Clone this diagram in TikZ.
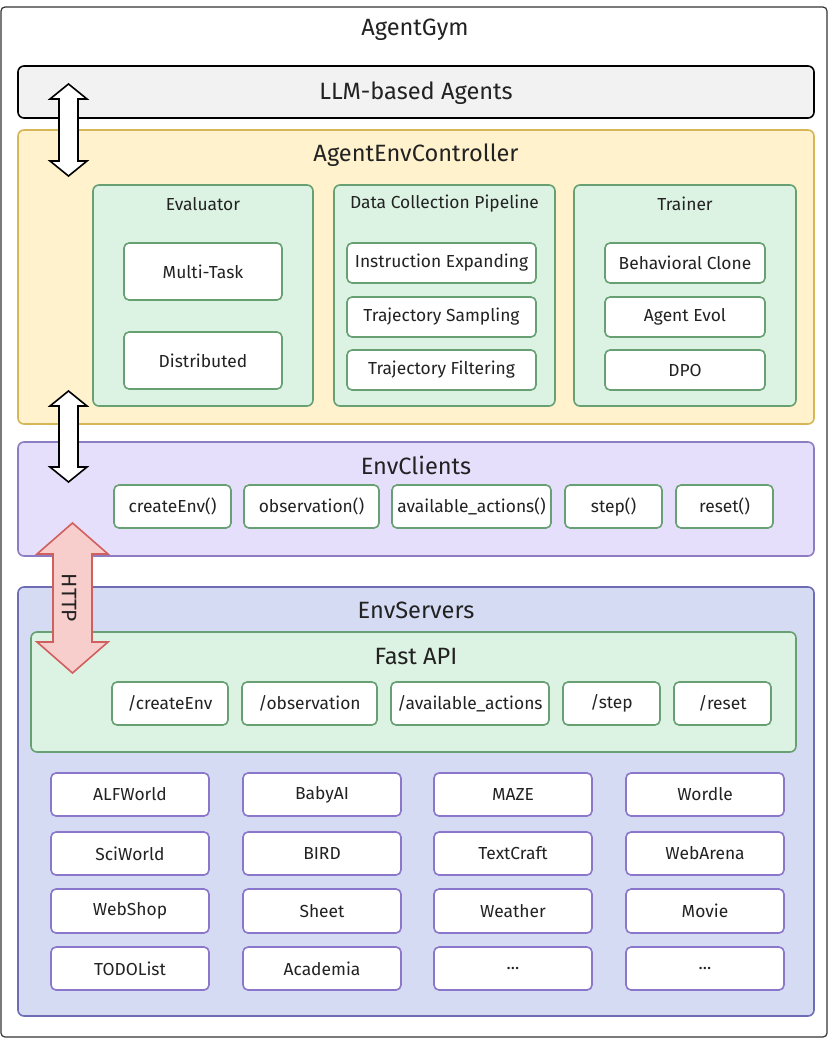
\documentclass[tikz,border=0pt]{standalone}
\usepackage{fontspec}
\setmainfont{Fira Sans}
\usetikzlibrary{calc}

\definecolor{txt}{HTML}{222222}
\definecolor{llmfill}{HTML}{F2F2F2}
\definecolor{ctrlfill}{HTML}{FFF2CC}
\definecolor{ctrldraw}{HTML}{D6B656}
\definecolor{modfill}{HTML}{DCF3E3}
\definecolor{moddraw}{HTML}{67A072}
\definecolor{clifill}{HTML}{E6DFFC}
\definecolor{clidraw}{HTML}{8E7CC3}
\definecolor{srvfill}{HTML}{D5DBF3}
\definecolor{srvdraw}{HTML}{6C6DB5}
\definecolor{envdraw}{HTML}{8A77CC}
\definecolor{httpfill}{HTML}{F8CECC}
\definecolor{httpdraw}{HTML}{D0605E}

\tikzset{
  layer/.style={rounded corners=3pt,line width=0.8pt},
  cell/.style={fill=white,draw=moddraw,rounded corners=2.5pt,line width=0.8pt},
  envcell/.style={fill=white,draw=envdraw,rounded corners=2.5pt,line width=0.8pt},
  title/.style={text=txt,font=\fontsize{11.8}{14}\selectfont,inner sep=0pt},
  lbl/.style={text=txt,font=\fontsize{8.7}{10}\selectfont,inner sep=0pt},
  bigarrow/.style={fill=white,draw=black,line width=0.8pt,line join=miter},
}

% double block arrow from tip #2 to tip #3, shaft half width #4, head half width #5, head length #6
\newcommand{\blockarrow}[6]{%
  \draw[#1] (#2) -- ($(#2)+(#5,#6)$) -- ($(#2)+(#4,#6)$) -- ($(#3)+(#4,-#6)$)
    -- ($(#3)+(#5,-#6)$) -- (#3) -- ($(#3)+(-#5,-#6)$) -- ($(#3)+(-#4,-#6)$)
    -- ($(#2)+(-#4,#6)$) -- ($(#2)+(-#5,#6)$) -- cycle;}

\begin{document}
\begin{tikzpicture}[x=0.5pt,y=-0.5pt]
\useasboundingbox (0,0) rectangle (828,1039);
\draw[fill=white,draw=black!80,rounded corners=2pt,line width=0.6pt] (1,7) rectangle (827,1037);
\node[title] (gym) at (415,30) {AgentGym};

% agents
\draw[layer,fill=llmfill,draw=black] (18,66) rectangle (814,118);
\node[title] (llm) at (416,93) {LLM-based Agents};

% controller
\draw[layer,fill=ctrlfill,draw=ctrldraw] (18,130) rectangle (814,424);
\node[title] (ctrl) at (416,155) {AgentEnvController};

\draw[layer,fill=modfill,draw=moddraw] (93,185) rectangle (313,406);
\node[lbl] (eval) at (203,204) {Evaluator};
\draw[cell] (124,243) rectangle (282,300);
\node[lbl] (multi) at (203,271.5) {Multi-Task};
\draw[cell] (124,332) rectangle (282,389);
\node[lbl] (dist) at (203,360.5) {Distributed};

\draw[layer,fill=modfill,draw=moddraw] (334,185) rectangle (555,406);
\node[lbl] (pipe) at (444.5,204) {Data Collection Pipeline};
\draw[cell] (347,243) rectangle (536,283);
\node[lbl] (instr) at (441.5,263) {Instruction Expanding};
\draw[cell] (347,297) rectangle (536,337);
\node[lbl] (tsample) at (441.5,317) {Trajectory Sampling};
\draw[cell] (347,350) rectangle (536,390);
\node[lbl] (tfilter) at (441.5,370) {Trajectory Filtering};

\draw[layer,fill=modfill,draw=moddraw] (574,185) rectangle (796,406);
\node[lbl] (trainer) at (685,204) {Trainer};
\draw[cell] (605,243) rectangle (765,283);
\node[lbl] (bc) at (685,263) {Behavioral Clone};
\draw[cell] (605,297) rectangle (765,337);
\node[lbl] (evol) at (685,317) {Agent Evol};
\draw[cell] (605,350) rectangle (765,390);
\node[lbl] (dpo) at (685,370) {DPO};

% clients
\draw[layer,fill=clifill,draw=clidraw] (18,442) rectangle (814,556);
\node[title] (clients) at (416,465) {EnvClients};
\draw[cell] (114,485) rectangle (231,528);
\node[lbl] (ccreate) at (172.5,506.5) {createEnv()};
\draw[cell] (244,485) rectangle (379,528);
\node[lbl] (cobs) at (311.5,506.5) {observation()};
\draw[cell] (392,485) rectangle (551,528);
\node[lbl] (cact) at (471.5,506.5) {available\_actions()};
\draw[cell] (565,485) rectangle (662,528);
\node[lbl] (cstep) at (613.5,506.5) {step()};
\draw[cell] (676,485) rectangle (773,528);
\node[lbl] (creset) at (724.5,506.5) {reset()};

% servers
\draw[layer,fill=srvfill,draw=srvdraw] (18,587) rectangle (814,1016);
\node[title] (servers) at (416,610) {EnvServers};
\draw[layer,fill=modfill,draw=moddraw] (31,632) rectangle (796,752);
\node[title] (fastapi) at (416,657) {Fast API};
\draw[cell] (112,682) rectangle (228,725);
\node[lbl] (screate) at (170,703.5) {/createEnv};
\draw[cell] (242,682) rectangle (377,725);
\node[lbl] (sobs) at (309.5,703.5) {/observation};
\draw[cell] (391,682) rectangle (549,725);
\node[lbl] (sact) at (470,703.5) {/available\_actions};
\draw[cell] (563,682) rectangle (660,725);
\node[lbl] (sstep) at (611.5,703.5) {/step};
\draw[cell] (674,682) rectangle (771,725);
\node[lbl] (sreset) at (722.5,703.5) {/reset};

% environments
\draw[envcell] (51,773) rectangle (209,816);
\node[lbl] (alfworld) at (130,794.5) {ALFWorld};
\draw[envcell] (243,773) rectangle (401,816);
\node[lbl] (babyai) at (322,794.5) {BabyAI};
\draw[envcell] (434,773) rectangle (592,816);
\node[lbl] (maze) at (513,794.5) {MAZE};
\draw[envcell] (626,773) rectangle (784,816);
\node[lbl] (wordle) at (705,794.5) {Wordle};
\draw[envcell] (51,832) rectangle (209,875);
\node[lbl] (sciworld) at (130,853.5) {SciWorld};
\draw[envcell] (243,832) rectangle (401,875);
\node[lbl] (bird) at (322,853.5) {BIRD};
\draw[envcell] (434,832) rectangle (592,875);
\node[lbl] (textcraft) at (513,853.5) {TextCraft};
\draw[envcell] (626,832) rectangle (784,875);
\node[lbl] (webarena) at (705,853.5) {WebArena};
\draw[envcell] (51,889) rectangle (209,933);
\node[lbl] (webshop) at (130,911) {WebShop};
\draw[envcell] (243,889) rectangle (401,933);
\node[lbl] (sheet) at (322,911) {Sheet};
\draw[envcell] (434,889) rectangle (592,933);
\node[lbl] (weather) at (513,911) {Weather};
\draw[envcell] (626,889) rectangle (784,933);
\node[lbl] (movie) at (705,911) {Movie};
\draw[envcell] (51,947) rectangle (209,990);
\node[lbl] (todolist) at (130,968.5) {TODOList};
\draw[envcell] (243,947) rectangle (401,990);
\node[lbl] (academia) at (322,968.5) {Academia};
\draw[envcell] (434,947) rectangle (592,990);
\node[lbl] (moreA) at (513,968.5) {...};
\draw[envcell] (626,947) rectangle (784,990);
\node[lbl] (moreB) at (705,968.5) {...};

% arrows between layers
\coordinate (agtop) at (68.5,84);
\coordinate (agbot) at (68.5,176);
\blockarrow{bigarrow}{agtop}{agbot}{9.5}{18.5}{15}
\coordinate (cltop) at (68.5,391);
\coordinate (clbot) at (68.5,482);
\blockarrow{bigarrow}{cltop}{clbot}{9.5}{18.5}{15}
\coordinate (httptop) at (72.5,523);
\coordinate (httpbot) at (72.5,673);
\blockarrow{bigarrow,fill=httpfill,draw=httpdraw}{httptop}{httpbot}{19.5}{35.5}{31}
\node[lbl,font=\fontsize{10.5}{12}\selectfont,rotate=-90] (http) at (69,598) {HTTP};

\end{tikzpicture}
\end{document}
